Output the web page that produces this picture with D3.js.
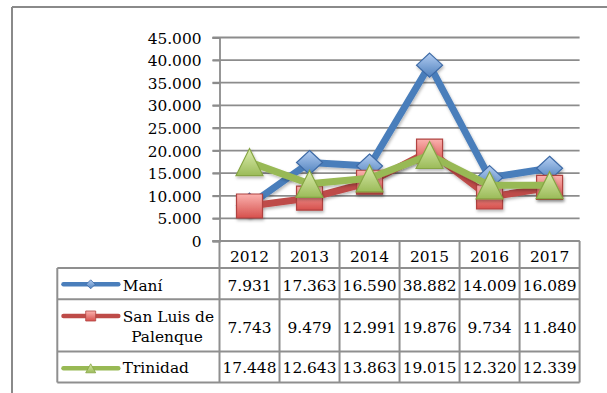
<!DOCTYPE html>
<html>
<head>
<meta charset="utf-8">
<script src="https://cdn.jsdelivr.net/npm/d3@7"></script>
<style>
  html, body { margin: 0; padding: 0; background: #fff; }
  svg { display: block; }
  text { font-family: "DejaVu Serif", serif; font-size: 15.4px; fill: #000; }
</style>
</head>
<body>
<svg id="chart" width="607" height="393"></svg>
<script>
// Years on the category axis
const years = ["2012", "2013", "2014", "2015", "2016", "2017"];

// Series names (the second one wraps on two lines in the table)
const seriesNames = ["Maní", "San Luis de Palenque", "Trinidad"];
const seriesLines = [["Maní"], ["San Luis de", "Palenque"], ["Trinidad"]];

// Values per year
const maniValues = [7931, 17363, 16590, 38882, 14009, 16089];
const sanLuisValues = [7743, 9479, 12991, 19876, 9734, 11840];
const trinidadValues = [17448, 12643, 13863, 19015, 12320, 12339];

// Value axis ticks
const yTicks = [0, 5000, 10000, 15000, 20000, 25000, 30000, 35000, 40000, 45000];

const seriesValues = [maniValues, sanLuisValues, trinidadValues];
const seriesStyle = [
  { line: "#4a7ebb", top: "#b3cdf2", bottom: "#4f81bd", edge: "#3d6aa6", shape: "diamond" },
  { line: "#be4b48", top: "#fbb2af", bottom: "#d6504c", edge: "#b04340", shape: "square" },
  { line: "#98b954", top: "#dcedae", bottom: "#9bbb59", edge: "#86a544", shape: "triangle" }
];

// Spanish-style number formatting: 45.000
const locale = d3.formatLocale({ decimal: ",", thousands: ".", grouping: [3], currency: ["", ""] });
const fmt = locale.format(",d");

const svg = d3.select("#chart");

// Outer frame (top and left edges are visible)
const frameColor = "#8a8a8a";
svg.append("line").attr("x1", 12).attr("x2", 607).attr("y1", 7).attr("y2", 7)
  .attr("stroke", frameColor).attr("stroke-width", 2);
svg.append("line").attr("x1", 12).attr("x2", 12).attr("y1", 7).attr("y2", 393)
  .attr("stroke", frameColor).attr("stroke-width", 2);

// Plot geometry
const plotLeft = 219.5, plotRight = 579.6, plotTop = 37.5, plotBottom = 241;
const x = d3.scaleBand().domain(years).range([plotLeft, plotRight]).padding(0);
const cx = d => x(d) + x.bandwidth() / 2;
const y = d3.scaleLinear().domain([0, 45000]).range([plotBottom, plotTop]);

const defs = svg.append("defs");
const shadow = defs.append("filter").attr("id", "shadow")
  .attr("x", "-30%").attr("y", "-30%").attr("width", "160%").attr("height", "160%");
shadow.append("feDropShadow").attr("dx", 1).attr("dy", 2).attr("stdDeviation", 1.6)
  .attr("flood-color", "#000").attr("flood-opacity", 0.28);

seriesStyle.forEach((s, i) => {
  const g = defs.append("linearGradient").attr("id", "grad" + i)
    .attr("x1", 0).attr("y1", 0).attr("x2", 0).attr("y2", 1);
  g.append("stop").attr("offset", "0%").attr("stop-color", s.top);
  g.append("stop").attr("offset", "100%").attr("stop-color", s.bottom);
});

// Horizontal gridlines (they also form the tick marks left of the axis)
const gridColor = "#8c8c8c";
svg.append("g").selectAll("line").data(yTicks).join("line")
  .attr("x1", plotLeft - 7).attr("x2", plotRight)
  .attr("y1", d => y(d)).attr("y2", d => y(d))
  .attr("stroke", gridColor).attr("stroke-width", 1.8);

// Value axis
const yAxis = d3.axisLeft(y).tickValues(yTicks).tickFormat(fmt).tickSize(7).tickPadding(11);
const yAxisG = svg.append("g").attr("transform", `translate(${plotLeft},0)`).call(yAxis);
yAxisG.select(".domain").attr("stroke", gridColor).attr("stroke-width", 1.8);
yAxisG.selectAll(".tick line").attr("stroke", gridColor).attr("stroke-width", 1.8);
yAxisG.selectAll(".tick text")
  .style("font-family", '"DejaVu Serif", serif').style("font-size", "15.4px")
  .attr("fill", "#000").attr("dy", "0.36em");

// Data table
const tableColor = "#8f8f8f";
const tableLeft = 57.3;
const rowEdges = [241, 268, 299.3, 351.5, 382.5];
const table = svg.append("g");

// header row and column separators
const colEdges = years.map(d => x(d)).concat([plotRight]);
table.selectAll("line.col").data(colEdges).join("line").attr("class", "col")
  .attr("x1", d => d).attr("x2", d => d)
  .attr("y1", rowEdges[0]).attr("y2", rowEdges[4])
  .attr("stroke", tableColor).attr("stroke-width", 2);
table.append("line").attr("x1", plotLeft - 7).attr("x2", plotRight)
  .attr("y1", rowEdges[0]).attr("y2", rowEdges[0])
  .attr("stroke", tableColor).attr("stroke-width", 2);
table.append("line").attr("x1", plotLeft).attr("x2", plotRight)
  .attr("y1", rowEdges[1]).attr("y2", rowEdges[1])
  .attr("stroke", tableColor).attr("stroke-width", 2);
// body rows
table.selectAll("line.row").data(rowEdges.slice(1)).join("line").attr("class", "row")
  .attr("x1", tableLeft).attr("x2", plotRight)
  .attr("y1", d => d).attr("y2", d => d)
  .attr("stroke", tableColor).attr("stroke-width", 2);
table.append("line").attr("x1", tableLeft).attr("x2", tableLeft)
  .attr("y1", rowEdges[1]).attr("y2", rowEdges[4])
  .attr("stroke", tableColor).attr("stroke-width", 2);

// header labels
table.selectAll("text.year").data(years).join("text").attr("class", "year")
  .attr("x", d => cx(d)).attr("y", 262.3).attr("text-anchor", "middle").text(d => d);

// value cells
const rowBaselines = [291, 332.7, 373];
seriesValues.forEach((vals, i) => {
  table.append("g").selectAll("text").data(vals).join("text")
    .attr("x", (d, j) => cx(years[j])).attr("y", rowBaselines[i])
    .attr("text-anchor", "middle").text(d => fmt(d));
});

// Marker shapes centred on (0,0)
function markerPath(shape, w, h) {
  const a = w / 2, b = h / 2;
  if (shape === "diamond") return `M0,${-b}L${a},0L0,${b}L${-a},0Z`;
  if (shape === "square") return `M${-a},${-b}H${a}V${b}H${-a}Z`;
  return `M0,${-b}L${a},${b}L${-a},${b}Z`;
}
const markerSize = {
  diamond: [26, 24],
  square: [26, 24],
  triangle: [27, 27]
};
const keySize = {
  diamond: [9, 9],
  square: [10, 10],
  triangle: [10, 9]
};

// legend keys and series names inside the table
const keyY = [284.3, 316, 368.3];
const keyX1 = 63.5, keyX2 = 118.3, keyCx = 90.7;
const nameX = 122.7;
seriesStyle.forEach((s, i) => {
  const k = table.append("g");
  k.append("line").attr("x1", keyX1).attr("x2", keyX2).attr("y1", keyY[i]).attr("y2", keyY[i])
    .attr("stroke", s.line).attr("stroke-width", 4.5).attr("stroke-linecap", "round");
  const [w, h] = keySize[s.shape];
  k.append("path").attr("d", markerPath(s.shape, w, h))
    .attr("transform", `translate(${keyCx},${keyY[i]})`)
    .attr("fill", `url(#grad${i})`).attr("stroke", s.edge).attr("stroke-width", 0.8);
});
table.append("text").attr("x", nameX).attr("y", 291).text(seriesLines[0][0]);
table.append("text").attr("x", nameX).attr("y", 322.3).text(seriesLines[1][0]);
table.append("text").attr("x", 167).attr("y", 342.3).attr("text-anchor", "middle").text(seriesLines[1][1]);
table.append("text").attr("x", nameX).attr("y", 373.2).text(seriesLines[2][0]);

// Series lines with markers
const line = d3.line().x((d, j) => cx(years[j])).y(d => y(d));
seriesValues.forEach((vals, i) => {
  const s = seriesStyle[i];
  const g = svg.append("g").attr("class", "series").attr("filter", "url(#shadow)");
  g.append("path").datum(vals).attr("d", line)
    .attr("fill", "none").attr("stroke", s.line).attr("stroke-width", 7)
    .attr("stroke-linejoin", "round").attr("stroke-linecap", "round");
  const [w, h] = markerSize[s.shape];
  g.selectAll("path.marker").data(vals).join("path").attr("class", "marker")
    .attr("d", markerPath(s.shape, w, h))
    .attr("transform", (d, j) => `translate(${cx(years[j])},${y(d)})`)
    .attr("fill", `url(#grad${i})`).attr("stroke", s.edge).attr("stroke-width", 1.2);
});
</script>
</body>
</html>
